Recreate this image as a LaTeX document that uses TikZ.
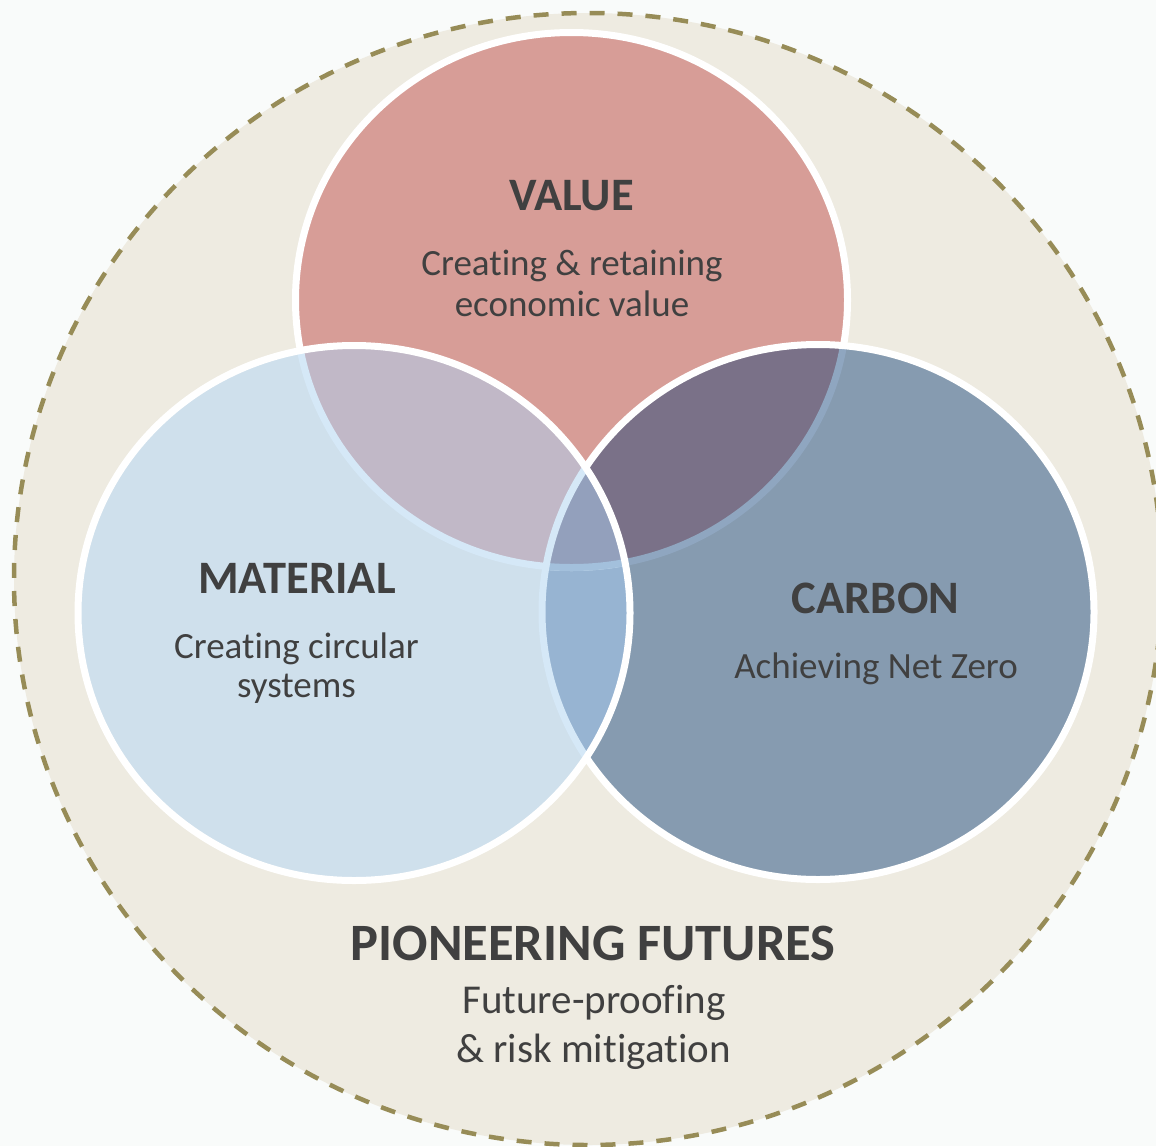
\documentclass[tikz,border=0pt]{standalone}
\usepackage{fontspec}
\setmainfont{Carlito}[Ligatures=NoCommon]
\definecolor{pagebg}{HTML}{F9FBFA}
\definecolor{beige}{HTML}{EEEBE1}
\definecolor{dashcol}{HTML}{978C57}
\definecolor{valcol}{HTML}{D79D97}
\definecolor{matcol}{HTML}{CFE0EC}
\definecolor{carcol}{HTML}{869BB0}
\definecolor{vmcol}{HTML}{C1B8C7}
\definecolor{vccol}{HTML}{7A7188}
\definecolor{mccol}{HTML}{97B4D2}
\definecolor{vmccol}{HTML}{93A0BC}
\definecolor{tintm}{HTML}{D5E8F7}
\definecolor{tintc}{HTML}{8FA6C0}
\definecolor{tintmc}{HTML}{A3C0DC}
\definecolor{txt}{HTML}{404040}
\tikzset{
  valp/.style={insert path={(571.5,300) ellipse [x radius=276, y radius=267.5]}},
  matp/.style={insert path={(354,613) ellipse [x radius=276, y radius=267.5]}},
  carp/.style={insert path={(818,612) ellipse [x radius=276, y radius=267.5]}},
  rim/.style={line width=7pt},
  title/.style={anchor=base, text=txt, font=\fontsize{46.5}{50}\selectfont\bfseries},
  sub/.style={anchor=base, text=txt, font=\fontsize{37}{40}\selectfont},
}
\begin{document}
\begin{tikzpicture}[x=1pt,y=-1pt]
\useasboundingbox (0,0) rectangle (1156,1146);
\clip (0,0) rectangle (1156,1146);
\fill[pagebg] (0,0) rectangle (1156,1146);
% outer ellipse
\fill[beige] (588,579) ellipse [x radius=574, y radius=566];
\draw[dashcol, line width=4.5pt, dash pattern=on 15pt off 13pt] (588,579) ellipse [x radius=574, y radius=566];
% value circle
\fill[valcol, valp];
\draw[white, rim, valp];
% carbon circle
\fill[carcol, carp];
\begin{scope}
  \clip[carp];
  \fill[vccol, valp];
  \draw[tintc, rim, valp];
\end{scope}
\draw[white, rim, carp];
% material circle
\fill[matcol, matp];
\begin{scope}
  \clip[matp];
  \fill[vmcol, valp];
  \fill[mccol, carp];
  \draw[tintm, rim, valp];
  \begin{scope}
    \clip[carp];
    \fill[vmccol, valp];
    \draw[tintmc, rim, valp];
  \end{scope}
  \draw[tintm, rim, carp];
\end{scope}
\draw[white, rim, matp];
% texts
\node[title] (vt) at (571.5,210) {VALUE};
\node[sub] (vs1) at (572,275) {Creating \& retaining};
\node[sub] (vs2) at (572,316) {economic value};
\node[title] (mt) at (297,593) {MATERIAL};
\node[sub] (ms1) at (296.5,658) {Creating circular};
\node[sub] (ms2) at (296.5,697) {systems};
\node[title] (ct) at (875.5,613) {CARBON};
\node[sub] (cs1) at (876,678) {Achieving Net Zero};
\node[title, font=\fontsize{52.5}{56}\selectfont\bfseries] (pt) at (593,960) {PIONEERING FUTURES};
\node[sub, font=\fontsize{41}{44}\selectfont] (ps1) at (594,1013) {Future-proofing};
\node[sub, font=\fontsize{41}{44}\selectfont] (ps2) at (593.5,1062) {\& risk mitigation};
\end{tikzpicture}
\end{document}
